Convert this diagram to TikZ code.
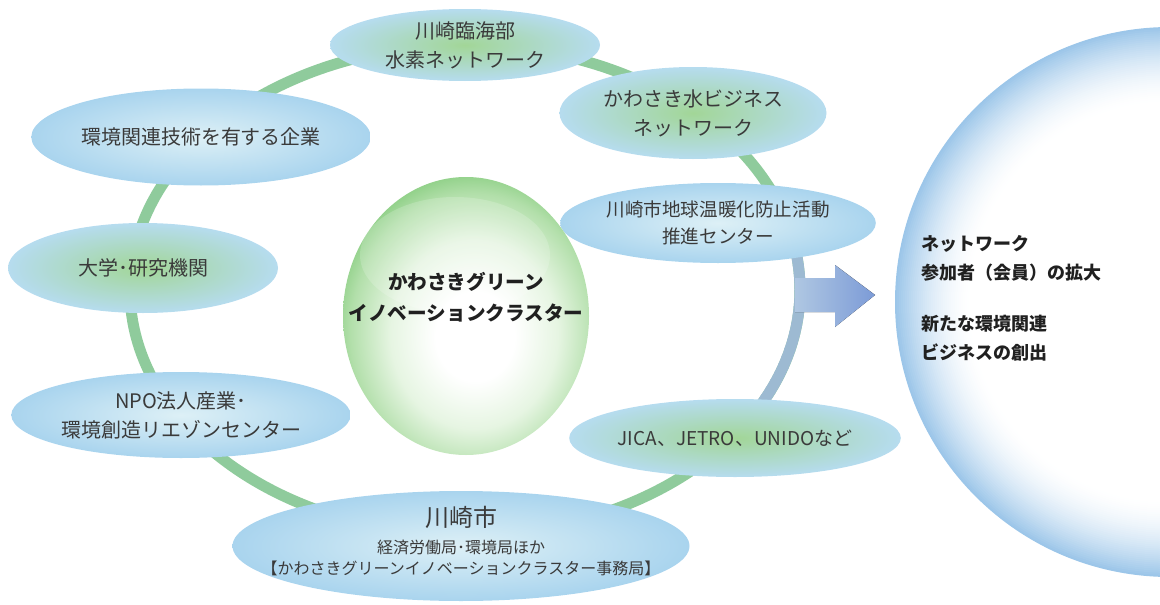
\documentclass[tikz,border=0pt]{standalone}
\usepackage{fontspec}
\setmainfont{Noto Sans CJK JP}
\usetikzlibrary{shapes.geometric}

% palette
\definecolor{ringgreen}{HTML}{8FCB9C}
\definecolor{ringblue}{HTML}{9DBAD2}
\definecolor{txt}{HTML}{3A3A3A}
\definecolor{boldtxt}{HTML}{202020}
\definecolor{orbedge}{HTML}{B6DCEF}
\definecolor{orbedgeB}{HTML}{A9D4EE}
\definecolor{orbcore}{HTML}{DDF0F6}
\definecolor{orbgreen}{HTML}{A2D697}
\definecolor{ballA}{HTML}{E6F5E2}
\definecolor{ballB}{HTML}{B2DFAA}
\definecolor{ballC}{HTML}{78C670}
\definecolor{balledge}{HTML}{55B354}
\definecolor{sphC}{HTML}{9CC6E9}
\definecolor{arrowL}{HTML}{AFC7E2}
\definecolor{arrowR}{HTML}{7C9BD7}

% radial shading for the core ball: its rim sits at about 35bp
\pgfdeclareradialshading{greenball}{\pgfpoint{2bp}{-4bp}}{%
  color(0bp)=(white); color(8bp)=(white); color(17bp)=(ballA);
  color(25bp)=(ballB); color(31bp)=(ballC); color(35bp)=(balledge);
  color(100bp)=(balledge)}

\tikzset{
  orb/.style={ellipse, inner sep=0pt, align=center, text=txt,
    font=\fontsize{20}{29}\selectfont},
  orbblue/.style={orb, inner color=orbcore, outer color=orbedgeB},
  orbgreen/.style={orb, inner color=orbgreen, outer color=orbedge},
  ringline/.style={line width=11, line cap=butt},
  boldlabel/.style={text=boldtxt, align=left, inner sep=0pt,
    font=\bfseries\fontsize{18}{29}\selectfont},
}

\begin{document}
\begin{tikzpicture}[x=1pt,y=-1pt]
\useasboundingbox (0,0) rectangle (1160,605);
\clip (0,0) rectangle (1160,605);

% network ring
\coordinate (ringc) at (465,290);
\draw[ringline, ringgreen] (ringc) ellipse [x radius=335, y radius=245];
\foreach \a in {-24,-22,...,42} {
  \pgfmathsetmacro\w{max(0,min(100,min((\a+24)*100/16,(44-\a)*100/16)))}
  \draw[ringline, ringblue!\w!ringgreen]
    ([shift={(\a:335 and 245)}]ringc)
    arc[start angle=\a, end angle=\a+2.3, x radius=335, y radius=245];
}

% arrow towards the outcome sphere
\coordinate (arrowbase) at (795,295);
\coordinate (arrowtip) at (875,295);
\fill[left color=arrowL, right color=arrowR]
  ([yshift=17]arrowbase) -- ++(40,0) -- ++(0,-13) -- (arrowtip)
  -- (835,327) -- ++(0,-15) -- ([yshift=-17]arrowbase) -- cycle;

% outcome sphere: pale blue rim fading to a white interior
\coordinate (sphc) at (1170,302);
\foreach \r in {275,273,...,199} {
  \pgfmathsetmacro\w{100*((\r-199)/76)^1.7}
  \fill[sphC!\w!white] (sphc) circle [radius=\r];
}
\node[boldlabel, anchor=west] (gainA) at (921,258) {ネットワーク\\参加者（会員）の拡大};
\node[boldlabel, anchor=west] (gainB) at (921,338) {新たな環境関連\\ビジネスの創出};

% member organisations on the ring
\node[orbgreen, minimum width=270, minimum height=72] (hydrogen) at (465,45)
  {川崎臨海部\\水素ネットワーク};
\node[orbgreen, minimum width=267, minimum height=92] (water) at (693,113)
  {かわさき水ビジネス\\ネットワーク};
\node[orbblue, minimum width=258, minimum height=80,
  font=\fontsize{18.6}{27}\selectfont] (warming) at (718,223)
  {川崎市地球温暖化防止活動\\推進センター};
\node[orbgreen, minimum width=296, minimum height=78,
  font=\fontsize{19}{27}\selectfont] (intl) at (735,438)
  {JICA、JETRO、UNIDOなど};
\node[orbblue, minimum width=457, minimum height=110] (city) at (461,546) {};
\node[text=txt, inner sep=0pt, font=\fontsize{24}{28}\selectfont] (cityname)
  at (461,517) {川崎市};
\node[text=txt, inner sep=0pt, align=center,
  font=\fontsize{16}{21}\selectfont] (cityoffice) at (461,558)
  {経済労働局･環境局ほか\\【かわさきグリーンイノベーションクラスター事務局】};
\node[orbblue, minimum width=297, minimum height=86] (npo) at (181,415)
  {NPO法人産業･\\環境創造リエゾンセンター};
\node[orbgreen, minimum width=270, minimum height=90] (univ) at (143,268)
  {大学･研究機関};
\node[orbblue, minimum width=323, minimum height=97] (firms) at (201,137)
  {環境関連技術を有する企業};

% cluster core
\node[ellipse, minimum width=246, minimum height=278, inner sep=0pt,
  shading=greenball] (core) at (466,316) {};
\fill[white, opacity=0.18] (455,255) ellipse [x radius=95, y radius=58];
\node[text=boldtxt, align=center, inner sep=0pt,
  font=\bfseries\fontsize{19.6}{31}\selectfont] (coretext) at (466,297)
  {かわさきグリーン\\イノベーションクラスター};
\end{tikzpicture}
\end{document}
